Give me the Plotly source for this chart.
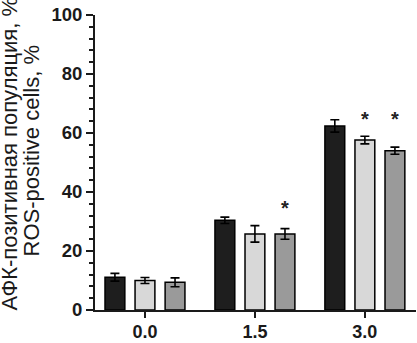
import plotly.graph_objects as go

categories = ["0.0", "1.5", "3.0"]
black_vals = [11.1, 30.4, 62.4]
black_err = [1.3, 1.1, 2.1]
light_vals = [10.0, 25.8, 57.6]
light_err = [1.0, 2.8, 1.3]
dark_vals = [9.4, 25.8, 54.0]
dark_err = [1.5, 1.8, 1.2]
y_ticks = [0, 20, 40, 60, 80, 100]
# significance stars: (category index, series index, y level)
stars = [(1, 2, 35.1), (2, 1, 65.5), (2, 2, 65.5)]

series = [
    ("black", black_vals, black_err, "#1e1e1e"),
    ("light", light_vals, light_err, "#d8d8d8"),
    ("dark", dark_vals, dark_err, "#9a9a9a"),
]

xs = list(range(len(categories)))
fig = go.Figure()
for name, vals, errs, col in series:
    fig.add_trace(go.Bar(
        x=xs, y=vals, name=name, marker=dict(color=col, line=dict(color="black", width=1.5)),
        error_y=dict(type="data", array=errs, visible=True, color="black", thickness=1.6, width=4.5),
        showlegend=False,
    ))

slot = 0.82 / 3
for ci, si, yv in stars:
    xpos = ci + (si - 1) * slot
    fig.add_annotation(x=xpos, y=yv, text="*", showarrow=False, yanchor="bottom", yshift=-15,
                       font=dict(family="Liberation Sans", size=20, weight="bold", color="#222"))

font_family = "Liberation Sans"
fig.update_layout(
    width=417, height=343,
    margin=dict(l=95, r=1, t=15, b=31),
    paper_bgcolor="white", plot_bgcolor="white",
    barmode="group", bargap=0.18, bargroupgap=0.34,
    font=dict(family=font_family, color="#1a1a1a"),
)
fig.update_xaxes(
    range=[-0.4545, 2.465], tickvals=xs, ticktext=categories,
    showline=True, linecolor="#1a1a1a", linewidth=2, ticks="outside", ticklen=6, tickwidth=2,
    tickcolor="#1a1a1a", showgrid=False, zeroline=False, ticklabelstandoff=-2,
    tickfont=dict(family=font_family, size=18, weight="bold", color="#1a1a1a"),
)
fig.update_yaxes(
    range=[0, 100], tickvals=y_ticks, showline=True, linecolor="#1a1a1a", linewidth=2,
    ticks="outside", ticklen=7, tickwidth=2, tickcolor="#1a1a1a", showgrid=False, zeroline=False,
    tickfont=dict(family=font_family, size=18.5, weight="bold", color="#1a1a1a"),
    minor=dict(dtick=4, ticks="outside", ticklen=4, tickwidth=1.5, tickcolor="#1a1a1a", showgrid=False),
)
fig.add_annotation(xref="paper", yref="paper", x=0, xanchor="center", xshift=-86, y=0.5, yshift=8,
                   text="АФК-позитивная популяция, %", textangle=-90, showarrow=False,
                   font=dict(family=font_family, size=22, color="#1a1a1a"))
fig.add_annotation(xref="paper", yref="paper", x=0, xanchor="center", xshift=-64, y=0.5, yshift=12,
                   text="ROS-positive cells, %", textangle=-90, showarrow=False,
                   font=dict(family=font_family, size=22, color="#1a1a1a"))
fig.write_html("out.html", config={"displayModeBar": False},
               post_script="document.body.style.margin='0';document.body.style.overflow='hidden';")
